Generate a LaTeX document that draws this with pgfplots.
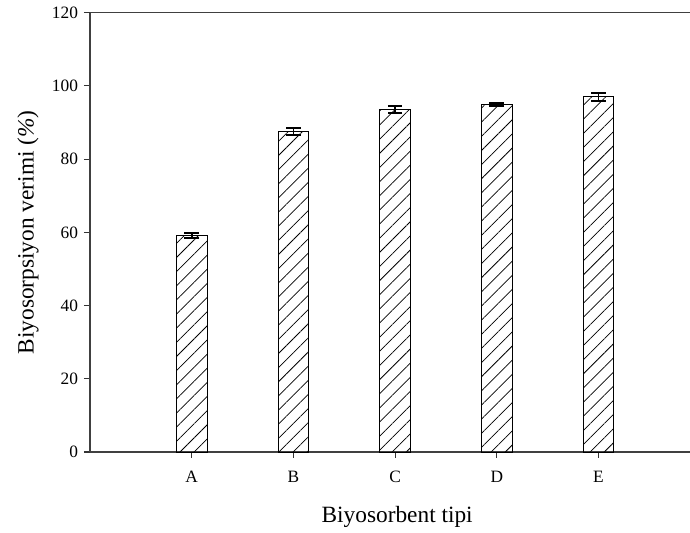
\documentclass[border=0pt]{standalone}
\usepackage{pgfplots}
\pgfplotsset{compat=1.18}
\usepackage{fontspec}
\setmainfont{Liberation Serif}
\usetikzlibrary{patterns.meta}

\pgfplotstableread{
x  y     e
1  59.2  0.65
2  87.6  0.9
3  93.6  1.0
4  95.0  0.45
5  97.0  1.1
}\yields

\begin{document}
\begin{tikzpicture}
\begin{axis}[
  name=ax,
  scale only axis,
  width=450pt, height=329.5pt,
  xmin=0, xmax=5.9,
  ymin=0, ymax=120,
  axis x line*=bottom,
  axis y line*=left,
  axis line style={-, line width=0.9pt, black!75},
  xtick={1,2,3,4,5},
  xticklabels={A,B,C,D,E},
  ytick={0,20,...,120},
  tick align=outside,
  major tick length=4.5pt,
  tick style={line width=0.8pt, black!80},
  /pgf/number format/assume math mode=true,
  ticklabel style={font=\fontsize{13}{15}\selectfont},
  xticklabel style={yshift=-6pt},
  yticklabel style={xshift=-1pt},
  xlabel={Biyosorbent tipi},
  ylabel={Biyosorpsiyon verimi (\textit{\%})},
  label style={font=\fontsize{17.5}{20}\selectfont},
  xlabel style={at={(axis description cs:0.512,-0.1594)}, anchor=base},
  ylabel style={at={(axis description cs:-0.1033,0.5)}, anchor=center},
  clip=false,
]
\addplot[
  ybar, bar width=23pt, draw=black, line width=0.6pt,
  fill=white,
  pattern={Lines[angle=45, distance=7.5pt, line width=0.55pt]},
  error bars/.cd, y dir=both, y explicit,
  error bar style={line width=1.3pt, black},
  error mark options={rotate=90, mark size=5.5pt, line width=1.5pt, black},
] table[x=x, y=y, y error=e] {\yields};
\draw[line width=0.9pt, black!75] (rel axis cs:0,1) -- (rel axis cs:1,1);
\end{axis}
\pgfresetboundingbox
\path ([xshift=-67.5pt, yshift=-60.75pt]ax.south west) rectangle ([yshift=9.5pt]ax.north east);
\end{tikzpicture}
\end{document}
